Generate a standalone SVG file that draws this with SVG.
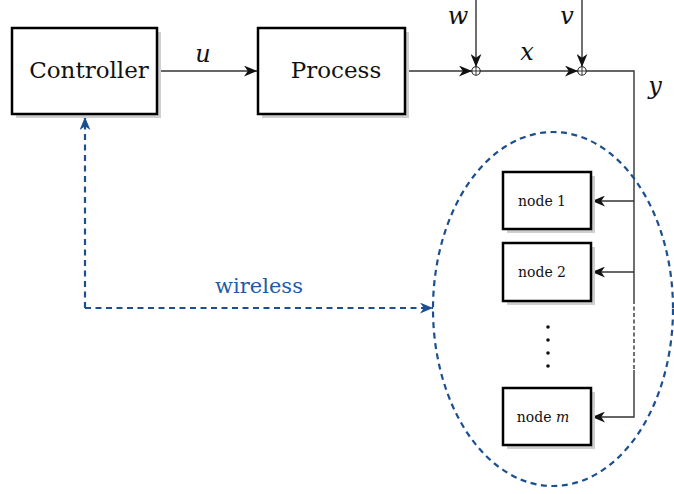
<svg xmlns="http://www.w3.org/2000/svg" width="674" height="494" viewBox="0 0 674 494">
<style>
.box{fill:#fff;stroke:#000;stroke-width:2.5}
.shadow{fill:#cfcfcf}
.sig{fill:none;stroke:#333;stroke-width:1.4}
.blue{fill:none;stroke:#1b4f8f;stroke-width:2.2;stroke-dasharray:6 4.5}
</style>
<defs>
<marker id="arr" viewBox="0 0 12 10" refX="12" refY="5" markerWidth="13" markerHeight="11" markerUnits="userSpaceOnUse" orient="auto">
<path d="M0,0 L12,5 L0,10 L3.5,5 z" fill="#111"/>
</marker>
<marker id="arrb" viewBox="0 0 12 10" refX="12" refY="5" markerWidth="13" markerHeight="11" markerUnits="userSpaceOnUse" orient="auto">
<path d="M0,0 L12,5 L0,10 L3.5,5 z" fill="#1b4f8f"/>
</marker>
</defs>

<g id="connectors">
<line class="sig" x1="157" y1="71" x2="257" y2="71" marker-end="url(#arr)"/>
<line class="sig" x1="405" y1="71" x2="472" y2="71" marker-end="url(#arr)"/>
<line class="sig" x1="476" y1="0" x2="476" y2="67" marker-end="url(#arr)"/>
<line class="sig" x1="480" y1="71" x2="578" y2="71" marker-end="url(#arr)"/>
<line class="sig" x1="582" y1="0" x2="582" y2="67" marker-end="url(#arr)"/>
<polyline class="sig" points="586,71 634,71 634,300"/>
<line class="sig" x1="634" y1="300" x2="634" y2="370" stroke-dasharray="4 2.5"/>
<polyline class="sig" points="634,370 634,417 592,417" marker-end="url(#arr)"/>
<line class="sig" x1="634" y1="201" x2="592" y2="201" marker-end="url(#arr)"/>
<line class="sig" x1="634" y1="272" x2="592" y2="272" marker-end="url(#arr)"/>
<polyline class="blue" points="85,308 85,117" marker-end="url(#arrb)"/>
<polyline class="blue" points="85,308 433,308" marker-end="url(#arrb)"/>
</g>

<g id="sum1"><circle cx="476" cy="71" r="4.2" fill="#fff" stroke="#222" stroke-width="1.1"/><path d="M471.8,71 H480.2 M476,66.8 V75.2" stroke="#222" stroke-width="0.9"/></g>
<g id="sum2"><circle cx="582" cy="71" r="4.2" fill="#fff" stroke="#222" stroke-width="1.1"/><path d="M577.8,71 H586.2 M582,66.8 V75.2" stroke="#222" stroke-width="0.9"/></g>

<g id="wireless-region"><ellipse class="blue" cx="553" cy="309" rx="120" ry="177"/></g>

<g id="controller">
<rect class="shadow" x="16" y="32" width="145" height="86"/>
<rect class="box" x="12" y="28" width="145" height="86"/>
<text x="89" y="78" font-family="DejaVu Serif, serif" font-size="23" fill="#111" text-anchor="middle">Controller</text>
</g>
<g id="process">
<rect class="shadow" x="262" y="32" width="147" height="86"/>
<rect class="box" x="258" y="28" width="147" height="86"/>
<text x="336" y="78" font-family="DejaVu Serif, serif" font-size="23" fill="#111" text-anchor="middle">Process</text>
</g>
<g id="node1">
<rect class="shadow" x="507" y="176" width="88" height="57"/>
<rect class="box" x="503" y="172" width="88" height="57"/>
<text x="542" y="206" font-family="DejaVu Serif, serif" font-size="14" fill="#111" text-anchor="middle">node 1</text>
</g>
<g id="node2">
<rect class="shadow" x="507" y="247" width="88" height="58"/>
<rect class="box" x="503" y="243" width="88" height="58"/>
<text x="542" y="277" font-family="DejaVu Serif, serif" font-size="14" fill="#111" text-anchor="middle">node 2</text>
</g>
<g id="nodem">
<rect class="shadow" x="507" y="392" width="88" height="57"/>
<rect class="box" x="503" y="388" width="88" height="57"/>
<text x="543" y="422" font-family="DejaVu Serif, serif" font-size="14" fill="#111" text-anchor="middle">node <tspan font-style="italic">m</tspan></text>
</g>
<g id="dots" fill="#111">
<circle cx="548" cy="327" r="1.8"/><circle cx="548" cy="340" r="1.8"/><circle cx="548" cy="353" r="1.8"/><circle cx="548" cy="366" r="1.8"/>
</g>

<g id="labels" font-family="DejaVu Serif, serif" font-style="italic" font-size="24" fill="#111" text-anchor="middle">
<text x="203" y="62">u</text>
<text x="458" y="24">w</text>
<text x="567" y="24">v</text>
<text x="527" y="60">x</text>
<text x="655" y="94">y</text>
<text x="259" y="293" font-style="normal" font-size="21" fill="#1f5aa8">wireless</text>
</g>
</svg>
